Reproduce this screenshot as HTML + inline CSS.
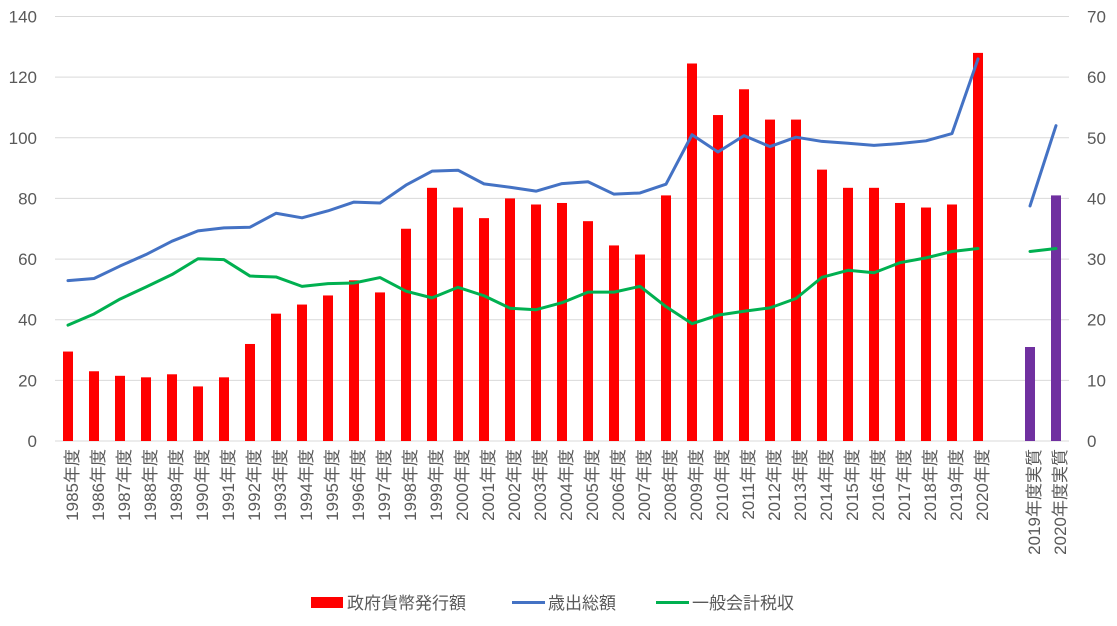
<!DOCTYPE html>
<html><head><meta charset="utf-8"><style>
body{margin:0;background:#fff;}
svg text{font-family:"Liberation Sans","Noto Sans CJK JP",sans-serif;fill:#595959;}
</style></head><body>
<svg id="chart" width="1117" height="621" xmlns="http://www.w3.org/2000/svg"></svg>
<script>
const categories=["1985年度","1986年度","1987年度","1988年度","1989年度","1990年度","1991年度","1992年度","1993年度","1994年度","1995年度","1996年度","1997年度","1998年度","1999年度","2000年度","2001年度","2002年度","2003年度","2004年度","2005年度","2006年度","2007年度","2008年度","2009年度","2010年度","2011年度","2012年度","2013年度","2014年度","2015年度","2016年度","2017年度","2018年度","2019年度","2020年度","","2019年度実質","2020年度実質"];
const barValues=[14.75,11.5,10.75,10.5,11,9,10.5,16,21,22.5,24,26.5,24.5,35,41.75,38.5,36.75,40,39,39.25,36.25,32.25,30.75,40.5,62.25,53.75,58,53,53,44.75,41.75,41.75,39.25,38.5,39,64,null,15.5,40.5];
const expenditure=[52.9,53.6,57.7,61.5,65.9,69.3,70.3,70.5,75.1,73.6,75.9,78.8,78.5,84.4,89.0,89.3,84.8,83.7,82.4,84.9,85.5,81.4,81.8,84.7,101.0,95.3,100.7,97.1,100.2,98.8,98.2,97.5,98.1,99.0,101.4,126.0,null,77.5,104.0];
const taxRevenue=[38.2,41.9,46.8,50.8,54.9,60.1,59.8,54.4,54.1,51.0,51.9,52.1,53.9,49.4,47.2,50.7,47.9,43.8,43.3,45.6,49.1,49.1,51.0,44.3,38.7,41.5,42.8,43.9,47.0,54.0,56.3,55.5,58.8,60.4,62.5,63.5,null,62.5,63.5];
const leftTicks=[0,20,40,60,80,100,120,140];
const rightTicks=[0,10,20,30,40,50,60,70];

const NS="http://www.w3.org/2000/svg";
const svg=document.getElementById('chart');
const L=55,R=1069,T=16.5,B=441;
const slot=(R-L)/categories.length;
const xc=i=>L+slot*(i+0.5);
const yL=v=>B-(v/140)*(B-T);
const yR=v=>B-(v/70)*(B-T);
function mk(tag,attrs){const e=document.createElementNS(NS,tag);for(const k in attrs)e.setAttribute(k,attrs[k]);svg.appendChild(e);return e;}

leftTicks.forEach((t,i)=>{
  if(t>0){const g=mk('line',{x1:L,x2:R,y1:yL(t),y2:yL(t),stroke:'#d9d9d9','stroke-width':1});
  
  }
  const tx=mk('text',{x:37,y:yL(t)+6,'text-anchor':'end','font-size':17});
  tx.textContent=t;
  
  
});
rightTicks.forEach(t=>{
  const tx=mk('text',{x:1087,y:yR(t)+6,'text-anchor':'start','font-size':17});
  tx.textContent=t;
  
  
});
const ax=mk('line',{x1:L,x2:R,y1:B,y2:B,stroke:'#d9d9d9','stroke-width':1});



barValues.forEach((v,i)=>{
  if(v==null)return;
  const b=mk('rect',{x:xc(i)-5,y:yR(v),width:10,height:B-yR(v),fill:i>=37?'#7030a0':'#ff0000'});
  
  
});
function line(vals,color,name){
  let d='',pen=false;
  vals.forEach((v,i)=>{if(v==null){pen=false;return;}d+=(pen?'L':'M')+xc(i)+','+yL(v)+' ';pen=true;});
  const p=mk('path',{d:d,fill:'none',stroke:color,'stroke-width':3,'stroke-linejoin':'round','stroke-linecap':'round'});
  
  
}
line(expenditure,'#4472c4','expenditure-line');
line(taxRevenue,'#00b050','tax-revenue-line');

categories.forEach((c,i)=>{
  if(!c)return;
  const tx=mk('text',{x:0,y:0,'text-anchor':'end','font-size':17,transform:'translate('+(xc(i)+10)+','+(B+8)+') rotate(-90)'});
  tx.textContent=c;
  
  
});

const lg=[['rect','#ff0000','政府貨幣発行額',311],['line','#4472c4','歳出総額',512],['line','#00b050','一般会計税収',656]];
lg.forEach(([k,c,t,x])=>{
  let m;
  if(k==='rect')m=mk('rect',{x:x,y:597,width:32,height:11,fill:c});
  else m=mk('line',{x1:x,x2:x+33,y1:602.5,y2:602.5,stroke:c,'stroke-width':3});
  
  
  const tx=mk('text',{x:x+36,y:609,'font-size':17});
  tx.textContent=t;
  
  
});
</script>
</body></html>
